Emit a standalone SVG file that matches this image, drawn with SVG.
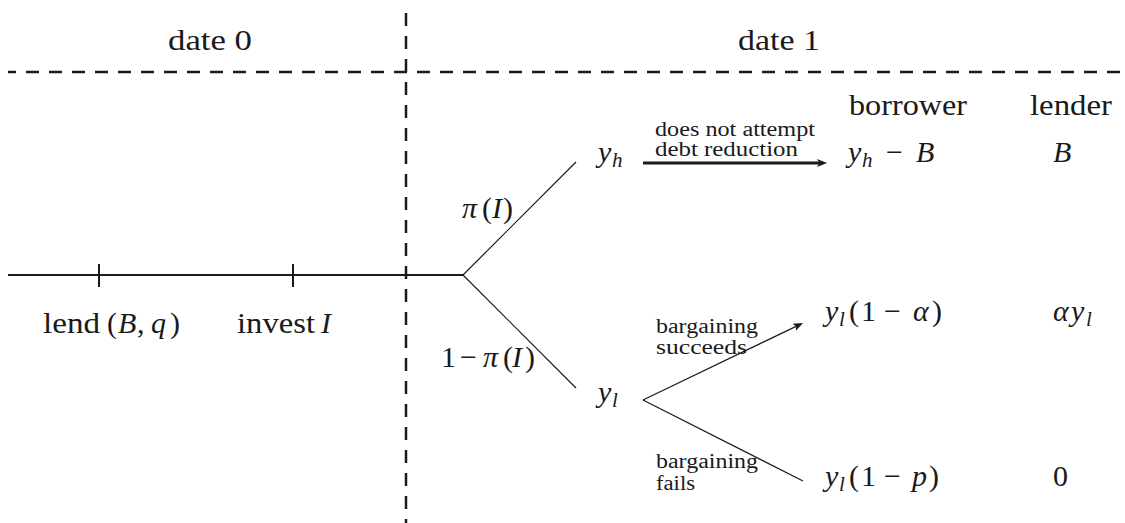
<svg xmlns="http://www.w3.org/2000/svg" width="1125" height="523" viewBox="0 0 1125 523" font-family="'Liberation Serif', serif">
<style>
text { font-family: "Liberation Serif", "Times New Roman", serif; fill: #1a1a1a; }
.big { font-size: 30px; }
.small { font-size: 20px; }
.it { font-style: italic; }
.sub { font-size: 21px; font-style: italic; }
.dash { fill: none; stroke: #1a1a1a; stroke-width: 2.5; stroke-dasharray: 13 10; }
.dash2 { stroke-dashoffset: 13; }
.tl { stroke: #1a1a1a; stroke-width: 2; fill: none; }
.br { stroke: #1a1a1a; stroke-width: 1.2; fill: none; }
.thick { stroke: #1a1a1a; stroke-width: 2.8; fill: none; }
</style>
<defs>
<marker id="ah" markerUnits="userSpaceOnUse" viewBox="0 0 10 8" refX="4" refY="4" markerWidth="10" markerHeight="8" orient="auto"><path d="M0,0 L10,4 L0,8 L2.5,4 Z" fill="#1a1a1a"/></marker>
</defs>

<g id="frame">
<path class="dash" d="M406,72 L406,13"/>
<path class="dash dash2" d="M406,72 L406,523"/>
<path class="dash" d="M407,72 L8,72"/>
<path class="dash dash2" d="M407,72 L1125,72"/>
</g>

<g id="date0"><text class="big" x="168" y="50" textLength="84" lengthAdjust="spacingAndGlyphs">date 0</text></g>
<g id="date1"><text class="big" x="738" y="50" textLength="82" lengthAdjust="spacingAndGlyphs">date 1</text></g>
<g id="head-borrower"><text class="big" x="849" y="115" textLength="118" lengthAdjust="spacingAndGlyphs">borrower</text></g>
<g id="head-lender"><text class="big" x="1030" y="115" textLength="82" lengthAdjust="spacingAndGlyphs">lender</text></g>

<g id="timeline">
<path class="tl" d="M8,275 L463,275"/>
<path class="tl" d="M99,264 L99,287"/>
<path class="tl" d="M293,264 L293,287"/>
</g>
<g id="lend"><text class="big" y="333"><tspan x="43" textLength="57" lengthAdjust="spacingAndGlyphs">lend</tspan><tspan x="107">(</tspan><tspan class="it" x="118">B</tspan><tspan x="137">,</tspan><tspan class="it" x="151">q</tspan><tspan x="170">)</tspan></text></g>
<g id="invest"><text class="big" y="333"><tspan x="237" textLength="78" lengthAdjust="spacingAndGlyphs">invest</tspan><tspan class="it" x="321">I</tspan></text></g>

<g id="prob-high"><text class="big" y="218"><tspan class="it" x="462">π</tspan><tspan x="482">(</tspan><tspan class="it" x="492">I</tspan><tspan x="503">)</tspan></text></g>
<g id="prob-low"><text class="big" y="367"><tspan x="441">1</tspan><tspan x="460">−</tspan><tspan class="it" x="483">π</tspan><tspan x="503">(</tspan><tspan class="it" x="512">I</tspan><tspan x="525">)</tspan></text></g>

<g id="node-yh"><text class="big it" x="598" y="162">y</text><text class="sub" x="612" y="167">h</text></g>
<g id="node-yl"><text class="big it" x="598" y="402">y</text><text class="sub" x="612" y="407">l</text></g>

<g id="label-noattempt">
<text class="small" x="655" y="136" textLength="160" lengthAdjust="spacingAndGlyphs">does not attempt</text>
<text class="small" x="655" y="156" textLength="143" lengthAdjust="spacingAndGlyphs">debt reduction</text>
</g>
<g id="label-succeeds">
<text class="small" x="656" y="333" textLength="102" lengthAdjust="spacingAndGlyphs">bargaining</text>
<text class="small" x="656" y="354" textLength="91" lengthAdjust="spacingAndGlyphs">succeeds</text>
</g>
<g id="label-fails">
<text class="small" x="656" y="468" textLength="102" lengthAdjust="spacingAndGlyphs">bargaining</text>
<text class="small" x="656" y="490" textLength="39" lengthAdjust="spacingAndGlyphs">fails</text>
</g>

<g id="out-high">
<text class="big it" x="848" y="162">y</text><text class="sub" x="862" y="167">h</text>
<text class="big" x="886" y="162">−</text>
<text class="big it" x="916" y="162">B</text>
<text class="big it" x="1053" y="162">B</text>
</g>
<g id="out-succeed">
<text class="big it" x="825" y="321">y</text><text class="sub" x="839" y="326">l</text>
<text class="big" y="321"><tspan x="849">(</tspan><tspan x="861">1</tspan><tspan x="884">−</tspan><tspan class="it" x="913">α</tspan><tspan x="932">)</tspan></text>
<text class="big it" x="1053" y="321">α</text><text class="big it" x="1071" y="321">y</text><text class="sub" x="1086" y="326">l</text>
</g>
<g id="out-fail">
<text class="big it" x="825" y="486">y</text><text class="sub" x="839" y="491">l</text>
<text class="big" y="486"><tspan x="849">(</tspan><tspan x="861">1</tspan><tspan x="884">−</tspan><tspan class="it" x="912">p</tspan><tspan x="929">)</tspan></text>
<text class="big" x="1053" y="486">0</text>
</g>

<g id="connectors">
<path class="br" d="M463,275 L576,162"/>
<path class="br" d="M463,275 L576,388"/>
<path class="thick" d="M643,163 L821,163" marker-end="url(#ah)"/>
<path class="br" d="M643,400 L797.6,325.6" marker-end="url(#ah)"/>
<path class="br" d="M643,400 L803,481"/>
</g>
</svg>
